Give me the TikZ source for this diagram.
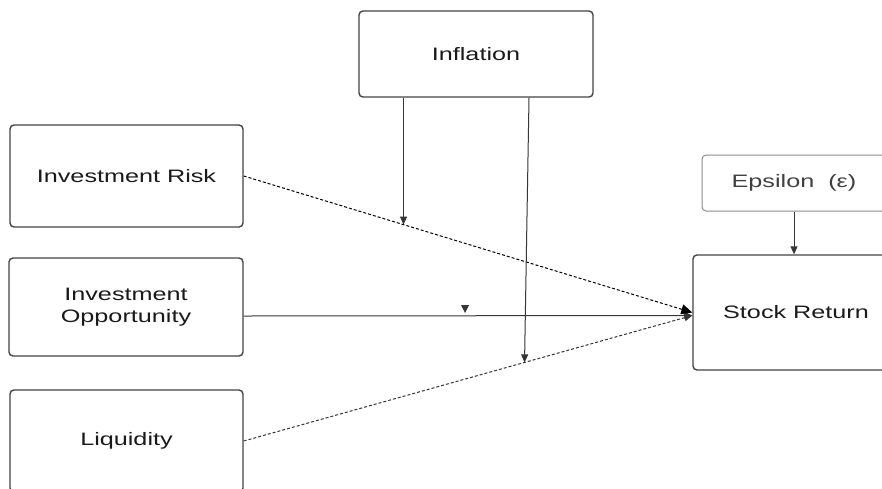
\documentclass[tikz,border=0pt]{standalone}
\usepackage{fontspec}
\setmainfont{Liberation Sans}[FakeStretch=1.4]
\usetikzlibrary{arrows.meta,calc}
\definecolor{boxc}{HTML}{444444}
\definecolor{epsc}{HTML}{8C8C8C}
\definecolor{linec}{HTML}{363636}
\definecolor{txt}{HTML}{1A1A1A}
\begin{document}
\begin{tikzpicture}[x=1pt,y=-1pt,
  box/.style={draw=boxc, line width=1.4pt, rounded corners=4pt, inner sep=0pt,
    align=center, font=\fontsize{18}{22.5}\selectfont, text=txt, fill=white},
  conn/.style={draw=linec, line width=1pt},
  dashline/.style={conn, dash pattern=on 3pt off 2pt},
  tipg/.style={-{Triangle[width=7pt,length=8pt]}},
  tipb/.style={-{Triangle[width=10pt,length=11pt]}}]
\useasboundingbox (0,0) rectangle (882,488);
\clip (0,0) rectangle (882,488);
\fill[white] (0,0) rectangle (882,488);

\node[box, minimum width=234pt, minimum height=86pt] (infl) at (476,54) {Inflation};
\node[box, minimum width=233pt, minimum height=102pt] (ir) at (126.5,176) {Investment Risk};
\node[box, minimum width=234pt, minimum height=98pt] (io) at (126,307) {Investment\\Opportunity};
\node[box, minimum width=233pt, minimum height=102pt] (liq) at (126.5,441) {Liquidity};
\node[box, draw=epsc, line width=1pt, text=black!75, minimum width=184pt, minimum height=56pt] (eps) at (794,183) {Epsilon\ \ (ε)};
\node[box, minimum width=206pt, minimum height=115pt] (sr) at (796,312.5) {Stock Return};

\coordinate (ioout) at ($(io.east)+(0,9)$);
\coordinate (srin) at ($(sr.west)+(0,3)$);
\coordinate (p1) at ($(ir.east)!0.3563!(sr.west)$);
\coordinate (p2) at ($(liq.east)!0.626!(srin)$);
\coordinate (q2) at ($(infl.south)+(53,0)$);

\draw[conn, tipg] (ioout) -- (srin);
\draw[dashline, tipg] (liq.east) -- (srin);
\draw[dashline, tipb, draw=black] (ir.east) -- (sr.west);

\draw[conn, tipg] (infl.south -| p1) -- (p1);
\draw[conn, tipg] (q2) -- (p2);
\draw[conn, tipg] (eps.south) -- (eps.south |- sr.north);

\fill[linec] (461,305) -- (469,305) -- (465,313) -- cycle;
\end{tikzpicture}
\end{document}
